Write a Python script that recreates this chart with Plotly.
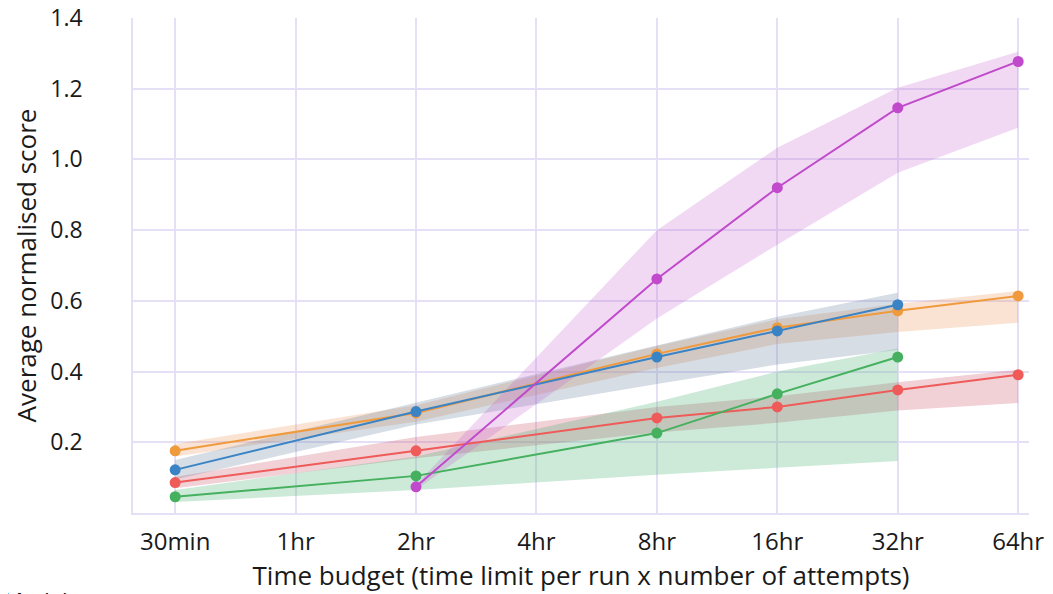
import plotly.graph_objects as go

categories = ["30min", "1hr", "2hr", "4hr", "8hr", "16hr", "32hr", "64hr"]
y_ticks = [0.2, 0.4, 0.6, 0.8, 1.0, 1.2, 1.4]

orange_x = ["30min", "2hr", "8hr", "16hr", "32hr", "64hr"]
orange_mean = [0.176, 0.283, 0.450, 0.524, 0.572, 0.614]
orange_upper = [0.195, 0.305, 0.472, 0.548, 0.592, 0.628]
orange_lower = [0.160, 0.258, 0.410, 0.478, 0.512, 0.538]

blue_x = ["30min", "2hr", "8hr", "16hr", "32hr"]
blue_mean = [0.122, 0.287, 0.441, 0.515, 0.589]
blue_upper = [0.150, 0.312, 0.472, 0.555, 0.623]
blue_lower = [0.095, 0.250, 0.365, 0.420, 0.461]

red_x = ["30min", "2hr", "8hr", "16hr", "32hr", "64hr"]
red_mean = [0.086, 0.176, 0.269, 0.300, 0.348, 0.391]
red_upper = [0.102, 0.215, 0.300, 0.330, 0.370, 0.405]
red_lower = [0.070, 0.155, 0.228, 0.255, 0.290, 0.311]

green_x = ["30min", "2hr", "8hr", "16hr", "32hr"]
green_mean = [0.046, 0.105, 0.226, 0.337, 0.441]
green_upper = [0.065, 0.160, 0.315, 0.400, 0.465]
green_lower = [0.031, 0.065, 0.108, 0.128, 0.147]

purple_x = ["2hr", "8hr", "16hr", "32hr", "64hr"]
purple_mean = [0.074, 0.662, 0.920, 1.146, 1.277]
purple_upper = [0.080, 0.800, 1.033, 1.203, 1.305]
purple_lower = [0.066, 0.550, 0.759, 0.962, 1.090]

series = [
    ("Claude 3.5 Sonnet (New)", orange_x, orange_mean, orange_upper, orange_lower, "#F09A3E", "rgba(236,150,90,0.27)"),
    ("o1-preview", blue_x, blue_mean, blue_upper, blue_lower, "#3A83C5", "rgba(95,125,155,0.26)"),
    ("GPT-4o", red_x, red_mean, red_upper, red_lower, "#EE5B58", "rgba(200,75,95,0.26)"),
    ("Claude 3.5 Sonnet (Old)", green_x, green_mean, green_upper, green_lower, "#45B05E", "rgba(69,176,115,0.27)"),
    ("Human", purple_x, purple_mean, purple_upper, purple_lower, "#C04ACB", "rgba(192,80,203,0.22)"),
]

fig = go.Figure()
for name, xs, m, up, lo, col, fillcol in series:
    fig.add_trace(go.Scatter(
        x=list(xs) + list(xs)[::-1], y=list(up) + list(lo)[::-1],
        fill="toself", fillcolor=fillcol, line=dict(width=0),
        mode="lines", hoverinfo="skip", showlegend=False))
for name, xs, m, up, lo, col, fillcol in series:
    fig.add_trace(go.Scatter(
        x=xs, y=m, mode="lines+markers", name=name,
        line=dict(color=col, width=2), marker=dict(color=col, size=11)))

grid = "#E6E0F7"
fig.update_layout(
    width=1053, height=594,
    margin=dict(l=125, r=32, t=10, b=89, autoexpand=False),
    paper_bgcolor="white", plot_bgcolor="white",
    font=dict(family="Open Sans", size=22, color="#1a1a1a"),
    legend=dict(orientation="h", x=-0.147, xanchor="left", y=-0.137, yanchor="top",
                title=dict(text="Model", side="top", font=dict(size=22)), font=dict(size=16)),
    xaxis=dict(type="category", categoryorder="array", categoryarray=categories,
               tickvals=categories, ticktext=categories, automargin=False,
               range=[-0.35, 7.09], showgrid=True, gridcolor=grid, gridwidth=1.5,
               showline=True, linecolor=grid, linewidth=1.5, zeroline=False,
               ticks="", ticklabelstandoff=6, tickfont=dict(size=24), ticklabeloverflow="allow",
               title=dict(text="Time budget (time limit per run x number of attempts)", standoff=0)),
    yaxis=dict(range=[0, 1.4], tickvals=y_ticks, ticktext=[f"{v:.1f}" for v in y_ticks],
               showgrid=True, gridcolor=grid, gridwidth=1.5, automargin=False,
               showline=True, linecolor=grid, linewidth=1.5, zeroline=False,
               ticks="", ticklabelstandoff=44, tickfont=dict(size=23), ticklabeloverflow="allow",
               title=dict(text="Average normalised score", standoff=6)),
)

fig.write_html("out.html")
